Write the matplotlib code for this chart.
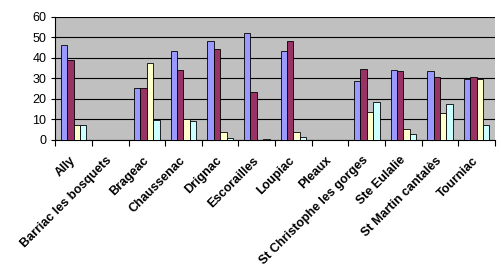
import numpy as np
import matplotlib.pyplot as plt

plt.rcParams['font.family'] = ['Liberation Sans', 'DejaVu Sans']

# communes
communes = ['Ally', 'Barriac les bosquets', 'Brageac', 'Chaussenac', 'Drignac',
            'Escorailles', 'Loupiac', 'Pleaux', 'St Christophe les gorges',
            'Ste Eulalie', 'St Martin cantalès', 'Tourniac']

# 4 series
serie1 = [46.2, 0, 25.1, 43.4, 48.0, 52.3, 43.4, 0, 28.7, 34.0, 33.5, 29.7]
serie2 = [38.9, 0, 25.1, 34.0, 44.1, 23.2, 48.0, 0, 34.8, 33.5, 30.8, 30.5]
serie3 = [7.3, 0, 37.3, 10.2, 4.0, 0.0, 4.0, 0, 13.5, 5.3, 13.0, 29.7]
serie4 = [7.3, 0, 9.7, 9.4, 1.1, 0.4, 1.5, 0, 18.3, 2.8, 17.3, 7.1]

couleurs = ['#9999FF', '#993366', '#FFFFCC', '#CCFFFF']

fig = plt.figure(figsize=(5.02, 2.80), dpi=100)
ax = fig.add_axes([0.11, 0.5, 0.876, 0.44])
ax.set_facecolor('#C0C0C0')

x = np.arange(len(communes))
w = 0.175
for i, (s, c) in enumerate(zip([serie1, serie2, serie3, serie4], couleurs)):
    ax.bar(x + (i - 1.5) * w, s, width=w, color=c, edgecolor='black', linewidth=0.6, zorder=3)

ax.set_xlim(-0.5, len(communes) - 0.5)
ax.set_ylim(0, 60)
ax.set_yticks(range(0, 61, 10))
ax.yaxis.grid(True, color='black', linewidth=0.8, zorder=0)
ax.tick_params(axis='y', labelsize=9, length=3, width=0.8)

# graduations entre les catégories
ax.set_xticks(np.arange(-0.5, len(communes), 1.0))
ax.set_xticklabels([])
ax.tick_params(axis='x', length=4, width=0.8)
for xi, lab in zip(x, communes):
    ax.text(xi - 0.12, -7, lab, rotation=45, ha='right', va='top',
            rotation_mode='anchor', fontsize=9, fontweight='bold')

for sp in ['top', 'right']:
    ax.spines[sp].set_visible(False)
ax.spines['left'].set_linewidth(0.8)
ax.spines['bottom'].set_linewidth(0.8)

fig.savefig('out.png', dpi=100)
